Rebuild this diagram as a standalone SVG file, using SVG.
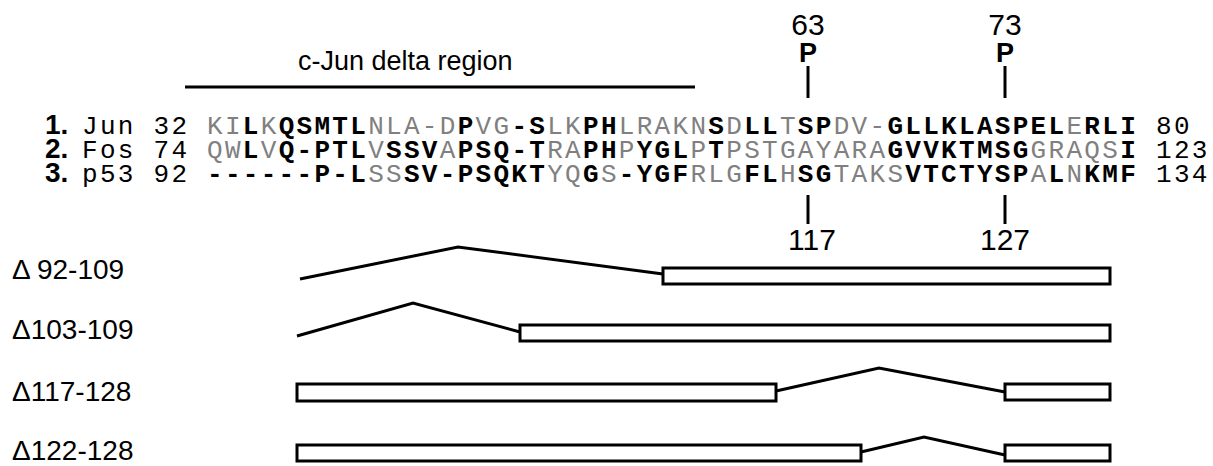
<svg xmlns="http://www.w3.org/2000/svg" width="1213" height="466" viewBox="0 0 1213 466">
<style>
.sans{font-family:"Liberation Sans",Arial,sans-serif;fill:#000}
.mono{font-family:"Liberation Mono","Courier New",monospace;font-size:26px;letter-spacing:2.3px;fill:#000}
.b{font-weight:bold;fill:#000}
.g{font-weight:normal;fill:#808080}
.ln{stroke:#000;stroke-width:3;fill:none}
.box{fill:#fff;stroke:#000;stroke-width:3}
</style>
<rect width="1213" height="466" fill="#fff"/>
<g id="title">
<text class="sans" x="298" y="70" font-size="27">c-Jun delta region</text>
<line class="ln" x1="185" y1="87" x2="695" y2="87"/>
</g>
<g id="site63">
<text class="sans" x="808" y="35" font-size="30" text-anchor="middle">63</text>
<text class="sans" x="808" y="62" font-size="27" font-weight="bold" text-anchor="middle">P</text>
<line class="ln" x1="808" y1="66" x2="808" y2="98"/>
</g>
<g id="site73">
<text class="sans" x="1005" y="35" font-size="30" text-anchor="middle">73</text>
<text class="sans" x="1005" y="62" font-size="27" font-weight="bold" text-anchor="middle">P</text>
<line class="ln" x1="1005" y1="66" x2="1005" y2="98"/>
</g>
<g id="row1">
<text class="sans" x="45" y="134" font-size="28" font-weight="bold">1.</text>
<text class="mono" x="82" y="134">Jun 32</text>
<text class="mono" x="207" y="134"><tspan class="g">KI</tspan><tspan class="b">L</tspan><tspan class="g">K</tspan><tspan class="b">QSMTL</tspan><tspan class="g">NLA-D</tspan><tspan class="b">P</tspan><tspan class="g">VG</tspan><tspan class="b">-S</tspan><tspan class="g">LK</tspan><tspan class="b">PH</tspan><tspan class="g">LRAKN</tspan><tspan class="b">S</tspan><tspan class="g">D</tspan><tspan class="b">LL</tspan><tspan class="g">T</tspan><tspan class="b">SP</tspan><tspan class="g">DV-</tspan><tspan class="b">GLLKLASPEL</tspan><tspan class="g">E</tspan><tspan class="b">RLI</tspan></text>
<text class="mono" x="1156" y="134">80</text>
</g>
<g id="row2">
<text class="sans" x="45" y="158" font-size="28" font-weight="bold">2.</text>
<text class="mono" x="82" y="158">Fos 74</text>
<text class="mono" x="207" y="158"><tspan class="g">QW</tspan><tspan class="b">L</tspan><tspan class="g">V</tspan><tspan class="b">Q-PTL</tspan><tspan class="g">V</tspan><tspan class="b">SSV</tspan><tspan class="g">A</tspan><tspan class="b">PSQ-T</tspan><tspan class="g">RA</tspan><tspan class="b">PH</tspan><tspan class="g">P</tspan><tspan class="b">YGL</tspan><tspan class="g">P</tspan><tspan class="b">T</tspan><tspan class="g">PSTGAYARA</tspan><tspan class="b">GVVKTMSG</tspan><tspan class="g">GRAQS</tspan><tspan class="b">I</tspan></text>
<text class="mono" x="1156" y="158">123</text>
</g>
<g id="row3">
<text class="sans" x="45" y="182" font-size="28" font-weight="bold">3.</text>
<text class="mono" x="82" y="182">p53 92</text>
<text class="mono" x="207" y="182"><tspan class="b">------P-L</tspan><tspan class="g">SS</tspan><tspan class="b">SV-PSQKT</tspan><tspan class="g">YQ</tspan><tspan class="b">G</tspan><tspan class="g">S</tspan><tspan class="b">-YGF</tspan><tspan class="g">RLG</tspan><tspan class="b">FL</tspan><tspan class="g">H</tspan><tspan class="b">SG</tspan><tspan class="g">TAKS</tspan><tspan class="b">VTCTYSP</tspan><tspan class="g">A</tspan><tspan class="b">L</tspan><tspan class="g">N</tspan><tspan class="b">KMF</tspan></text>
<text class="mono" x="1156" y="182">134</text>
</g>
<g id="site117">
<line class="ln" x1="808" y1="195" x2="808" y2="224"/>
<text class="sans" x="812" y="250" font-size="30" text-anchor="middle">117</text>
</g>
<g id="site127">
<line class="ln" x1="1005" y1="195" x2="1005" y2="224"/>
<text class="sans" x="1005" y="250" font-size="30" text-anchor="middle">127</text>
</g>
<g id="d92-109">
<text class="sans" x="12" y="279" font-size="28">Δ 92-109</text>
<polyline class="ln" points="300,279 458,247 663,274"/>
<rect class="box" x="663" y="268" width="447" height="16"/>
</g>
<g id="d103-109">
<text class="sans" x="12" y="339" font-size="28">Δ103-109</text>
<polyline class="ln" points="297,336 413,303 520,332"/>
<rect class="box" x="520" y="325" width="590" height="16"/>
</g>
<g id="d117-128">
<text class="sans" x="12" y="401" font-size="28">Δ117-128</text>
<rect class="box" x="297" y="384" width="479" height="17"/>
<polyline class="ln" points="776,391 879,368 1005,392"/>
<rect class="box" x="1005" y="384" width="105" height="16"/>
</g>
<g id="d122-128">
<text class="sans" x="12" y="460" font-size="28">Δ122-128</text>
<rect class="box" x="297" y="445" width="564" height="16"/>
<polyline class="ln" points="861,452 924,437 1005,455"/>
<rect class="box" x="1005" y="445" width="105" height="16"/>
</g>
</svg>
